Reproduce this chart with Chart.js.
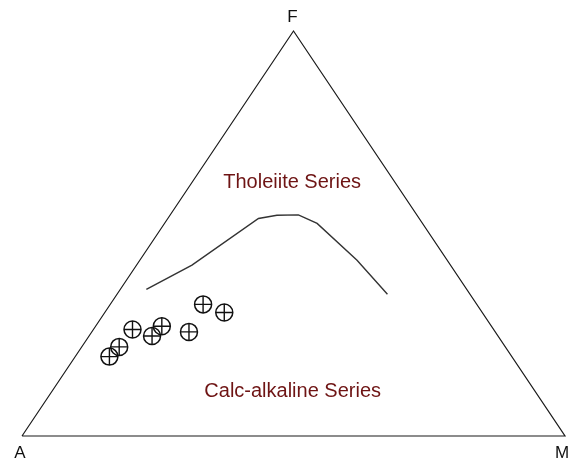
<!DOCTYPE html>
<html>
<head>
<meta charset="utf-8">
<script src="https://cdn.jsdelivr.net/npm/chart.js@4.4.0/dist/chart.umd.min.js"></script>
<style>
html,body{margin:0;padding:0;background:#fff;}
#c{display:block;}
</style>
</head>
<body>
<canvas id="c" width="577" height="464"></canvas>
<script>
// AFM ternary data (percent): A = Na2O+K2O, F = FeOt, M = MgO
const vertexLabels = ["A", "M", "F"];
const vertexA = [100, 0, 0];
const vertexF = [0, 0, 100];
const vertexM = [0, 100, 0];

// Tholeiite / calc-alkaline boundary
const boundaryA = [59.0, 47.6, 29.6, 25.8, 21.8, 19.4, 16.6, 15.2];
const boundaryF = [36.2, 42.2, 53.7, 54.5, 54.6, 52.5, 43.4, 35.0];
const boundaryM = [4.8, 10.2, 16.7, 19.7, 23.6, 28.1, 40.0, 49.8];

// Samples
const sampleA = [74.1, 71.1, 66.5, 63.7, 60.7, 56.4, 50.4, 47.5];
const sampleF = [19.6, 22.0, 26.3, 24.7, 27.1, 25.7, 32.5, 30.5];
const sampleM = [6.3, 6.9, 7.2, 11.6, 12.2, 17.9, 17.1, 22.0];

// Field labels (ternary positions)
const fieldNames = ["Tholeiite Series", "Calc-alkaline Series"];
const fieldA = [19.0, 44.7];
const fieldF = [62.5, 10.9];
const fieldM = [18.5, 44.4];

function tern(a, f, m) {
  const s = a + f + m;
  return { x: (m + f / 2) / s, y: f / s };
}
function toXY(A, F, M) {
  return A.map((a, i) => tern(a, F[i], M[i]));
}

const triangle = toXY(vertexA, vertexF, vertexM);
triangle.push(triangle[0]);
const boundary = toXY(boundaryA, boundaryF, boundaryM);
const samples = toXY(sampleA, sampleF, sampleM);
const fields = toXY(fieldA, fieldF, fieldM);

const textPlugin = {
  id: 'ternaryText',
  afterDraw(chart) {
    const ctx = chart.ctx;
    const xs = chart.scales.x, ys = chart.scales.y;
    ctx.save();
    ctx.textAlign = 'center';
    ctx.textBaseline = 'middle';
    ctx.fillStyle = '#111';
    ctx.font = '17px "Liberation Sans", Arial, sans-serif';
    const offs = [[-2, 17], [-3, 17], [-1, -14]];
    vertexLabels.forEach((t, i) => {
      const p = triangle[i];
      ctx.fillText(t, xs.getPixelForValue(p.x) + offs[i][0], ys.getPixelForValue(p.y) + offs[i][1]);
    });
    ctx.fillStyle = '#6e1414';
    ctx.font = '20px "Liberation Sans", Arial, sans-serif';
    fieldNames.forEach((t, i) => {
      const p = fields[i];
      ctx.fillText(t, xs.getPixelForValue(p.x), ys.getPixelForValue(p.y));
    });
    ctx.restore();
  }
};

new Chart(document.getElementById('c'), {
  type: 'scatter',
  data: {
    datasets: [
      {
        data: triangle, showLine: true, borderColor: '#1a1a1a', borderWidth: 1.2,
        pointRadius: 0, clip: false, tension: 0
      },
      {
        data: boundary, showLine: true, borderColor: '#333', borderWidth: 1.4,
        pointRadius: 0, clip: false, tension: 0
      },
      {
        data: samples, pointStyle: 'circle', pointRadius: 8.5,
        pointBackgroundColor: 'rgba(255,255,255,0)', pointBorderColor: '#111',
        pointBorderWidth: 1.5, clip: false
      },
      {
        data: samples, pointStyle: 'cross', pointRadius: 8.5,
        pointBorderColor: '#111', pointBorderWidth: 1.4, clip: false
      }
    ]
  },
  options: {
    responsive: false,
    animation: false,
    layout: { padding: { left: 22, right: 12, top: 31, bottom: 28 } },
    plugins: { legend: { display: false }, tooltip: { enabled: false } },
    scales: {
      x: { type: 'linear', min: 0, max: 1, display: false },
      y: { type: 'linear', min: 0, max: 1, display: false }
    }
  },
  plugins: [textPlugin]
});
</script>
</body>
</html>
